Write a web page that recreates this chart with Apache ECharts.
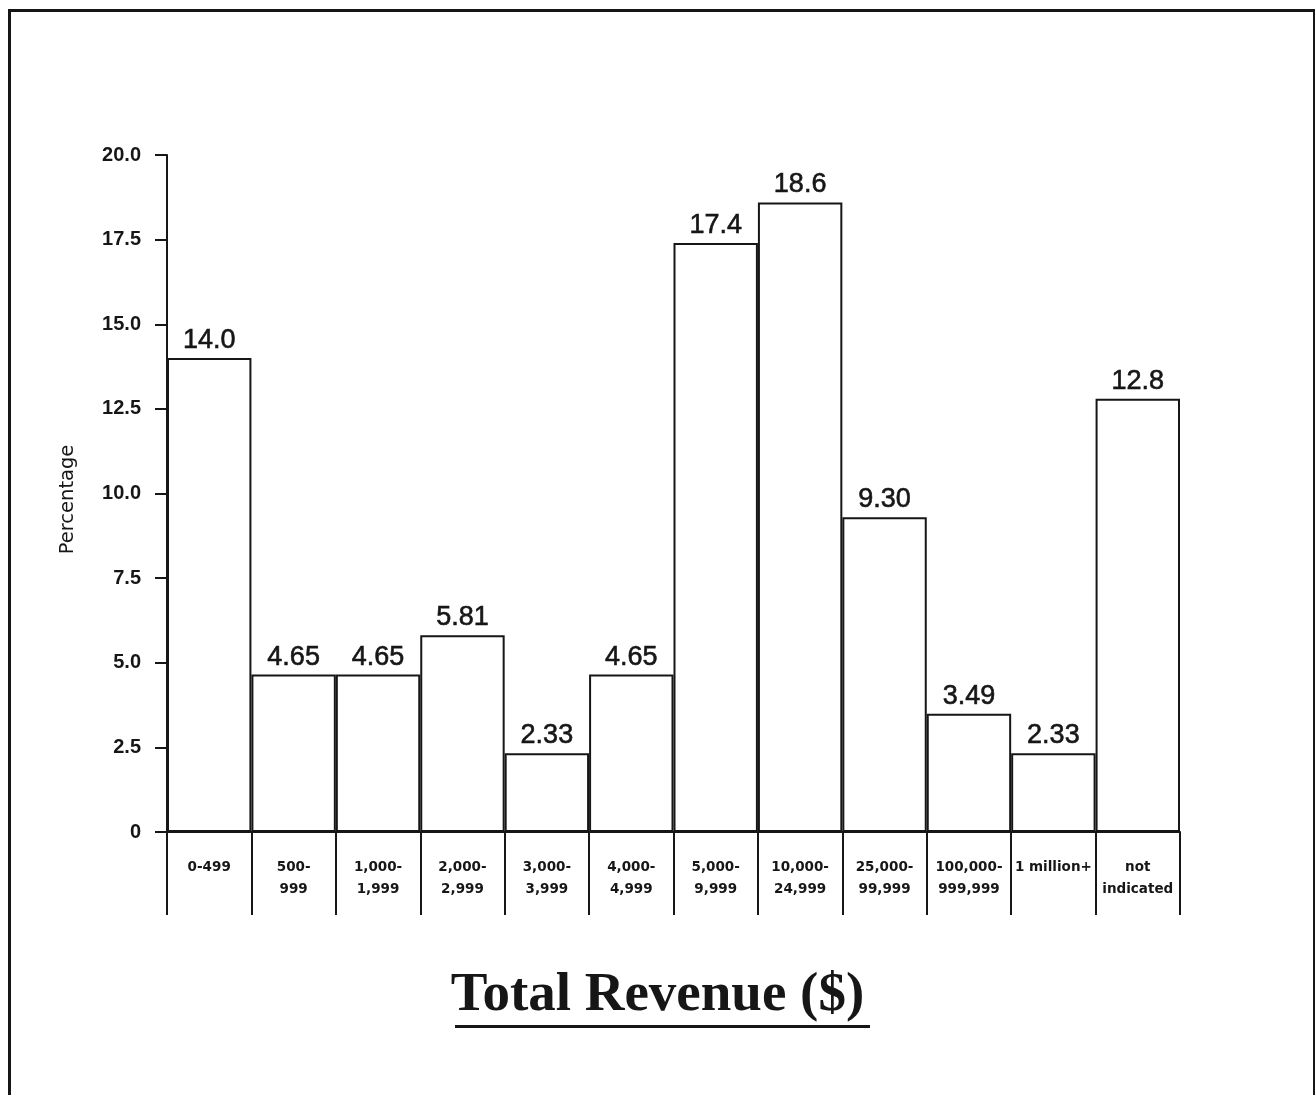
<!DOCTYPE html>
<html>
<head>
<meta charset="utf-8">
<title>Total Revenue ($)</title>
<script src="https://cdn.jsdelivr.net/npm/echarts@6/dist/echarts.min.js"></script>
<style>
  html, body { margin: 0; padding: 0; background: #fff; }
  #chart { width: 1315px; height: 1095px; }
</style>
</head>
<body>
<div id="chart"></div>
<script>
// Revenue brackets (x categories) and share of respondents in each (%)
const categories = [
  '0-499', '500-\n999', '1,000-\n1,999', '2,000-\n2,999', '3,000-\n3,999',
  '4,000-\n4,999', '5,000-\n9,999', '10,000-\n24,999', '25,000-\n99,999',
  '100,000-\n999,999', '1 million+', 'not\nindicated'
];
const percentages = [14.0, 4.65, 4.65, 5.81, 2.33, 4.65, 17.4, 18.6, 9.30, 3.49, 2.33, 12.8];
const yTicks = [0, 2.5, 5.0, 7.5, 10.0, 12.5, 15.0, 17.5, 20.0];

const INK = '#161616';
const SANS = '"Liberation Sans", Helvetica, Arial, sans-serif';
const WIDE = '"DejaVu Sans", Verdana, sans-serif';

const chart = echarts.init(document.getElementById('chart'), null, { renderer: 'canvas' });

chart.setOption({
  backgroundColor: '#fff',
  animation: false,
  grid: { left: 167, right: 135, top: 155, bottom: 263, containLabel: false },
  xAxis: {
    type: 'category',
    data: categories,
    boundaryGap: true,
    axisLine: { show: true, lineStyle: { color: INK, width: 2 } },
    // long downward ticks form the column dividers beneath the baseline
    axisTick: { show: true, inside: false, length: 83, lineStyle: { color: INK, width: 2 } },
    axisLabel: {
      interval: 0,
      margin: 24,
      color: INK,
      fontFamily: WIDE,
      fontWeight: 'bold',
      fontSize: 13.5,
      lineHeight: 22,
      align: 'center'
    },
    splitLine: { show: false }
  },
  yAxis: {
    type: 'value',
    min: yTicks[0],
    max: yTicks[yTicks.length - 1],
    interval: yTicks[1] - yTicks[0],
    name: 'Percentage',
    nameLocation: 'middle',
    nameRotate: 90,
    nameGap: 89,
    nameTextStyle: { color: INK, fontFamily: WIDE, fontSize: 19.5, padding: [0, 12, 0, 0] },
    axisLine: { show: true, lineStyle: { color: INK, width: 2 } },
    axisTick: { show: true, inside: false, length: 12, lineStyle: { color: INK, width: 2 } },
    axisLabel: {
      margin: 26,
      color: INK,
      fontFamily: SANS,
      fontWeight: 'bold',
      fontSize: 20,
      formatter: v => (v === 0 ? '0' : v.toFixed(1))
    },
    splitLine: { show: false }
  },
  series: [{
    type: 'bar',
    data: percentages,
    barCategoryGap: '0%',
    itemStyle: { color: '#fff', borderColor: INK, borderWidth: 2 },
    label: {
      show: true,
      position: 'top',
      distance: 4,
      color: INK,
      fontFamily: SANS,
      fontSize: 27,
      textBorderColor: INK,
      textBorderWidth: 0.6,
      formatter: p => Number(p.value).toPrecision(3)
    },
    emphasis: { disabled: true }
  }],
  graphic: [
    {
      // outer frame
      type: 'rect',
      left: 7, top: 8,
      shape: { width: 1305, height: 1100 },
      style: { fill: 'none', stroke: INK, lineWidth: 3 },
      silent: true
    },
    {
      type: 'text',
      left: 'center',
      top: 968,
      style: {
        text: 'Total Revenue ($)',
        fill: INK,
        font: 'bold 55px "Liberation Serif", "DejaVu Serif", serif'
      },
      silent: true
    },
    {
      // title underline
      type: 'rect',
      left: 455, top: 1025,
      shape: { width: 415, height: 3 },
      style: { fill: INK },
      silent: true
    }
  ]
});
</script>
</body>
</html>
